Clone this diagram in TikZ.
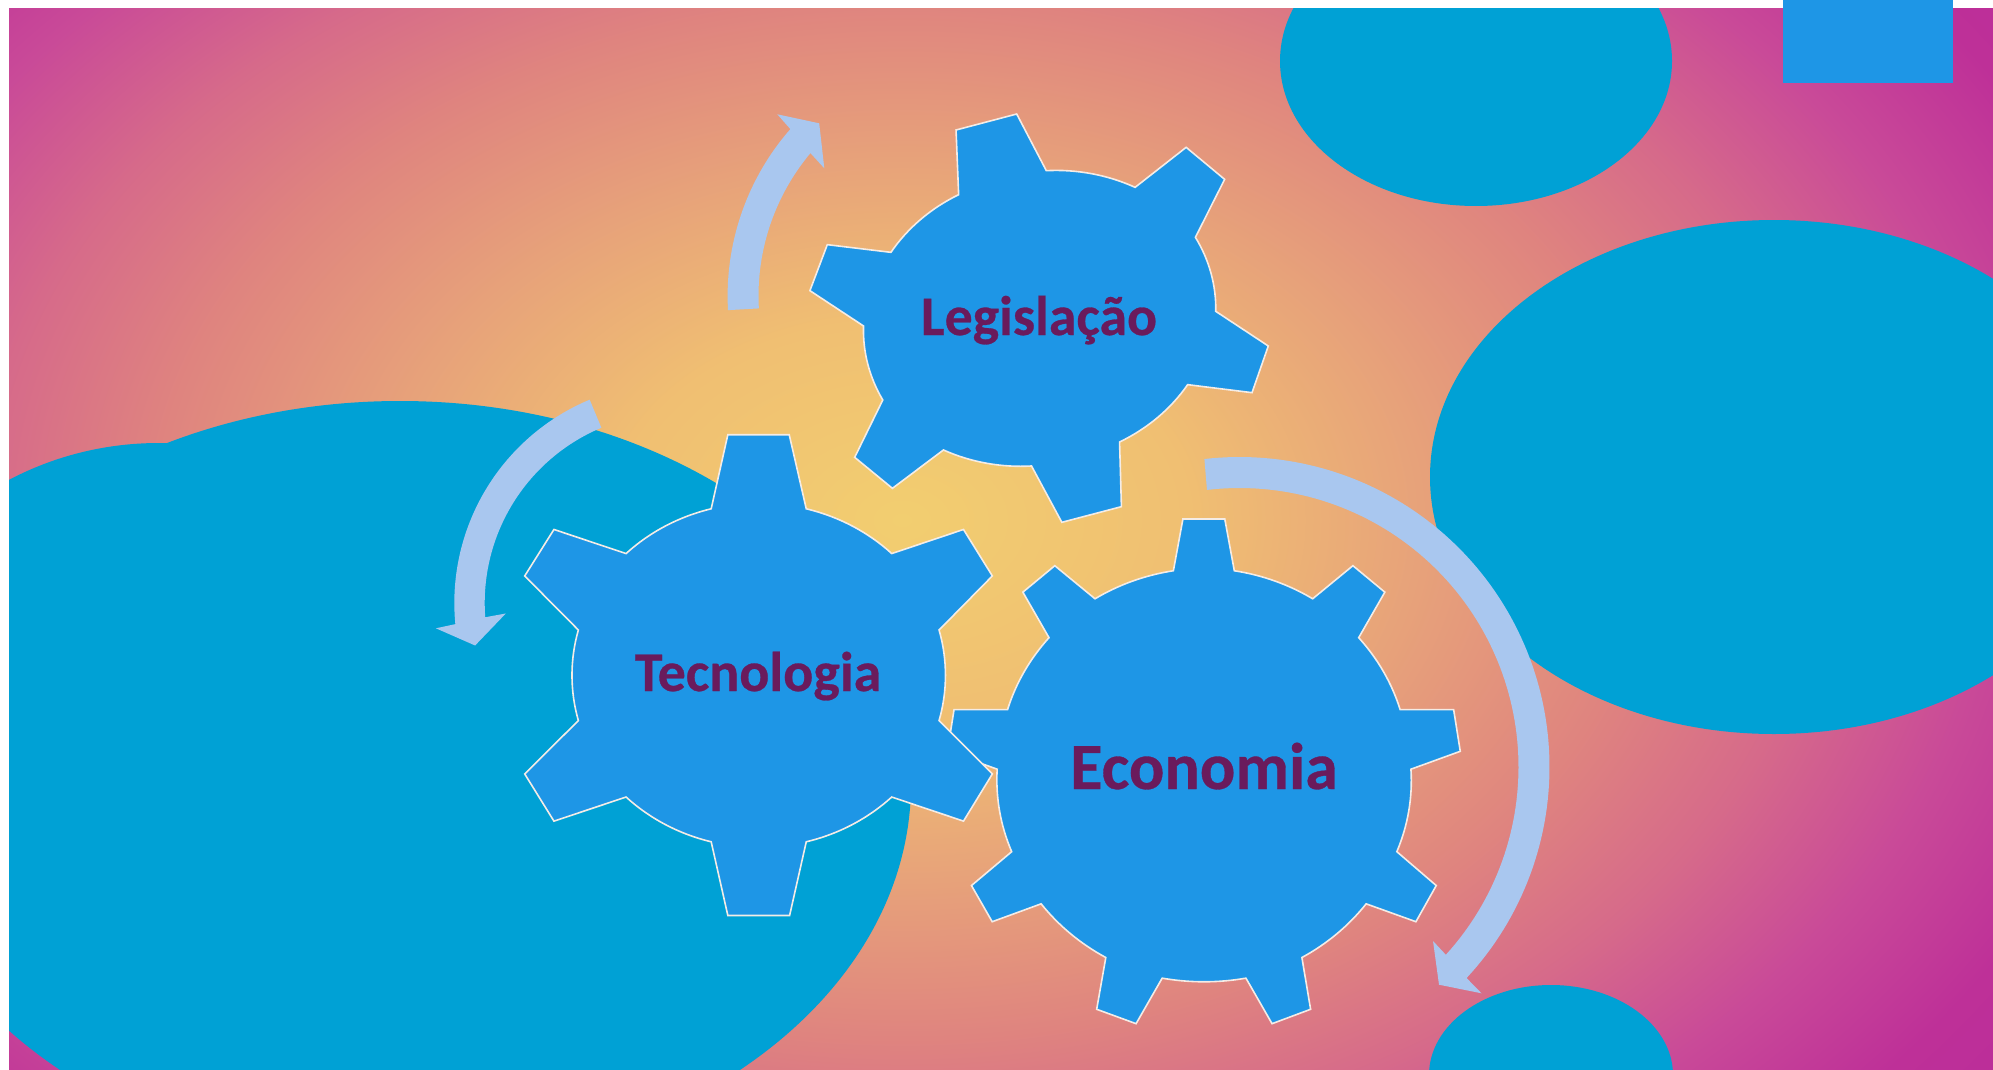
\documentclass[tikz,border=0pt]{standalone}
\usepackage{fontspec}
\setmainfont[BoldFeatures={FakeBold=0.5}]{Carlito}
\definecolor{teal}{HTML}{00A1D5}
\definecolor{gearblue}{HTML}{1E96E6}
\definecolor{arrowblue}{HTML}{A9C7EF}
\definecolor{gearedge}{HTML}{F4ECE6}
\definecolor{labelpurple}{HTML}{6A1B5C}
\definecolor{glowa}{HTML}{F2CE70}
\definecolor{glowb}{HTML}{F0BF72}
\definecolor{glowc}{HTML}{E7A27A}
\definecolor{glowd}{HTML}{DF847F}
\definecolor{glowe}{HTML}{D66A8A}
\definecolor{glowf}{HTML}{C94A98}
\definecolor{glowg}{HTML}{BE3098}
\definecolor{glowh}{HTML}{BB2D9A}
\pgfdeclareradialshading{bgglow}{\pgfpoint{0bp}{0bp}}{
 color(0bp)=(glowa);
 color(5.2bp)=(glowb);
 color(9.4bp)=(glowc);
 color(13.5bp)=(glowd);
 color(16.65bp)=(glowe);
 color(19.8bp)=(glowf);
 color(22.9bp)=(glowg);
 color(25bp)=(glowh);
 color(50bp)=(glowh)}
\tikzset{
 gearshape/.style={fill=gearblue,draw=gearedge,line width=1.6pt,line join=miter},
 blob/.style={fill=teal,draw=none},
 turnarrow/.style={fill=arrowblue,draw=none},
 gbend/.style={bend left=#1,looseness=0.866},
 gearlabel/.style={text=labelpurple,anchor=base,inner sep=0pt}
}
\begin{document}
\begin{tikzpicture}[x=1pt,y=-1pt]
\useasboundingbox (0,0) rectangle (1993,1070);
\fill[white] (0,0) rectangle (1993,1070);
\begin{scope}
\clip (9,9) rectangle (1993,1070);
\shade[shading=bgglow] (902,520) ellipse [x radius=1380,y radius=960];
\fill[blob] (1476,61) ellipse [x radius=196,y radius=145];
\fill[blob] (1774,477) ellipse [x radius=344,y radius=257];
\fill[blob] (1551,1075) ellipse [x radius=122,y radius=90];
\fill[blob] (400,784) ellipse [x radius=511,y radius=383];
\fill[blob] (159,743) ellipse [x radius=312,y radius=300];
\end{scope}
\fill[gearblue] (1783,0) rectangle (1953,83);
% Legislacao gear
\begin{scope}[shift={(720,90)},xscale=0.36996,yscale=0.33333]
\draw[gearshape] (638,120) -- (802,72) -- (882,242) to[gbend=15] (1122,292) -- (1260,172) -- (1364,268) -- (1285,442) to[gbend=15] (1340,664) -- (1482,768) -- (1438,908) -- (1264,884) to[gbend=15] (1080,1056) -- (1085,1250) -- (924,1297) -- (842,1128) to[gbend=15] (604,1080) -- (466,1195) -- (364,1102) -- (440,930) to[gbend=15] (388,708) -- (243,602) -- (290,464) -- (462,487) to[gbend=15] (645,314) -- cycle;
\end{scope}
% Economia gear
\begin{scope}[shift={(930,440)},xscale=0.41459,yscale=0.38911]
\draw[gearshape] (610,203) -- (711,203) -- (734,336) to[gbend=11.5] (923,408) -- (1020,323) -- (1097,391) -- (1034,508) to[gbend=12] (1134,693) -- (1263,693) -- (1279,800) -- (1160,846) to[gbend=12.5] (1126,1058) -- (1221,1145) -- (1172,1238) -- (1052,1192) to[gbend=11.5] (897,1330) -- (918,1463) -- (825,1500) -- (762,1383) to[gbend=10.5] (560,1383) -- (497,1500) -- (402,1463) -- (424,1330) to[gbend=11.5] (268,1192) -- (150,1238) -- (100,1145) -- (197,1058) to[gbend=12.5] (162,846) -- (42,800) -- (58,693) -- (187,693) to[gbend=12] (287,508) -- (224,391) -- (301,323) -- (398,408) to[gbend=11.5] (587,336) -- cycle;
\end{scope}
% Tecnologia gear
\begin{scope}[shift={(430,390)},xscale=0.36996,yscale=0.34435]
\draw[gearshape] (805,130) -- (971,130) -- (1017,345) to[gbend=15] (1248,475) -- (1442,405) -- (1520,540) -- (1376,697) to[gbend=15] (1376,960) -- (1520,1115) -- (1442,1252) -- (1248,1182) to[gbend=15] (1017,1312) -- (972,1526) -- (805,1526) -- (760,1312) to[gbend=15] (530,1182) -- (335,1252) -- (256,1115) -- (401,960) to[gbend=15] (401,697) -- (256,540) -- (335,405) -- (530,475) to[gbend=15] (760,345) -- cycle;
\end{scope}
% circular arrows
\fill[turnarrow] plot[domain=176.8:221.2,samples=50] ({981+253.4*cos(\x)},{296+253.4*sin(\x)}) -- (777.3,114.3) -- (819.2,123.3) -- (824.3,168.3) -- (810.6,153.3) -- plot[domain=219.9:176.8,samples=50] ({981+222.5*cos(\x)},{296+222.5*sin(\x)}) -- cycle;
\fill[turnarrow] plot[domain=247.3:174.5,samples=60] ({674.7+220.4*cos(\x)},{603+220.4*sin(\x)}) -- (435.9,628.3) -- (475.1,645.5) -- (505.8,613.5) -- plot[domain=175.7:247.3,samples=60] ({674.7+190*cos(\x)},{603+190*sin(\x)}) -- cycle;
\fill[turnarrow] plot[domain=-96.5:42.9,samples=100] ({1239.5+310*cos(\x)},{767+310*sin(\x)}) -- (1481.5,993.3) -- (1439,984.7) -- (1433,941) -- plot[domain=42.3:-96.7,samples=100] ({1239.5+279*cos(\x)},{767+279*sin(\x)}) -- cycle;
\node[gearlabel,font=\bfseries\fontsize{55.8pt}{60pt}\selectfont] (leg) at (1039,335) {Legislação};
\node[gearlabel,font=\bfseries\fontsize{56pt}{60pt}\selectfont] (tec) at (758,691) {Tecnologia};
\node[gearlabel,font=\bfseries\fontsize{66pt}{70pt}\selectfont] (eco) at (1204,789) {Economia};
\end{tikzpicture}
\end{document}
